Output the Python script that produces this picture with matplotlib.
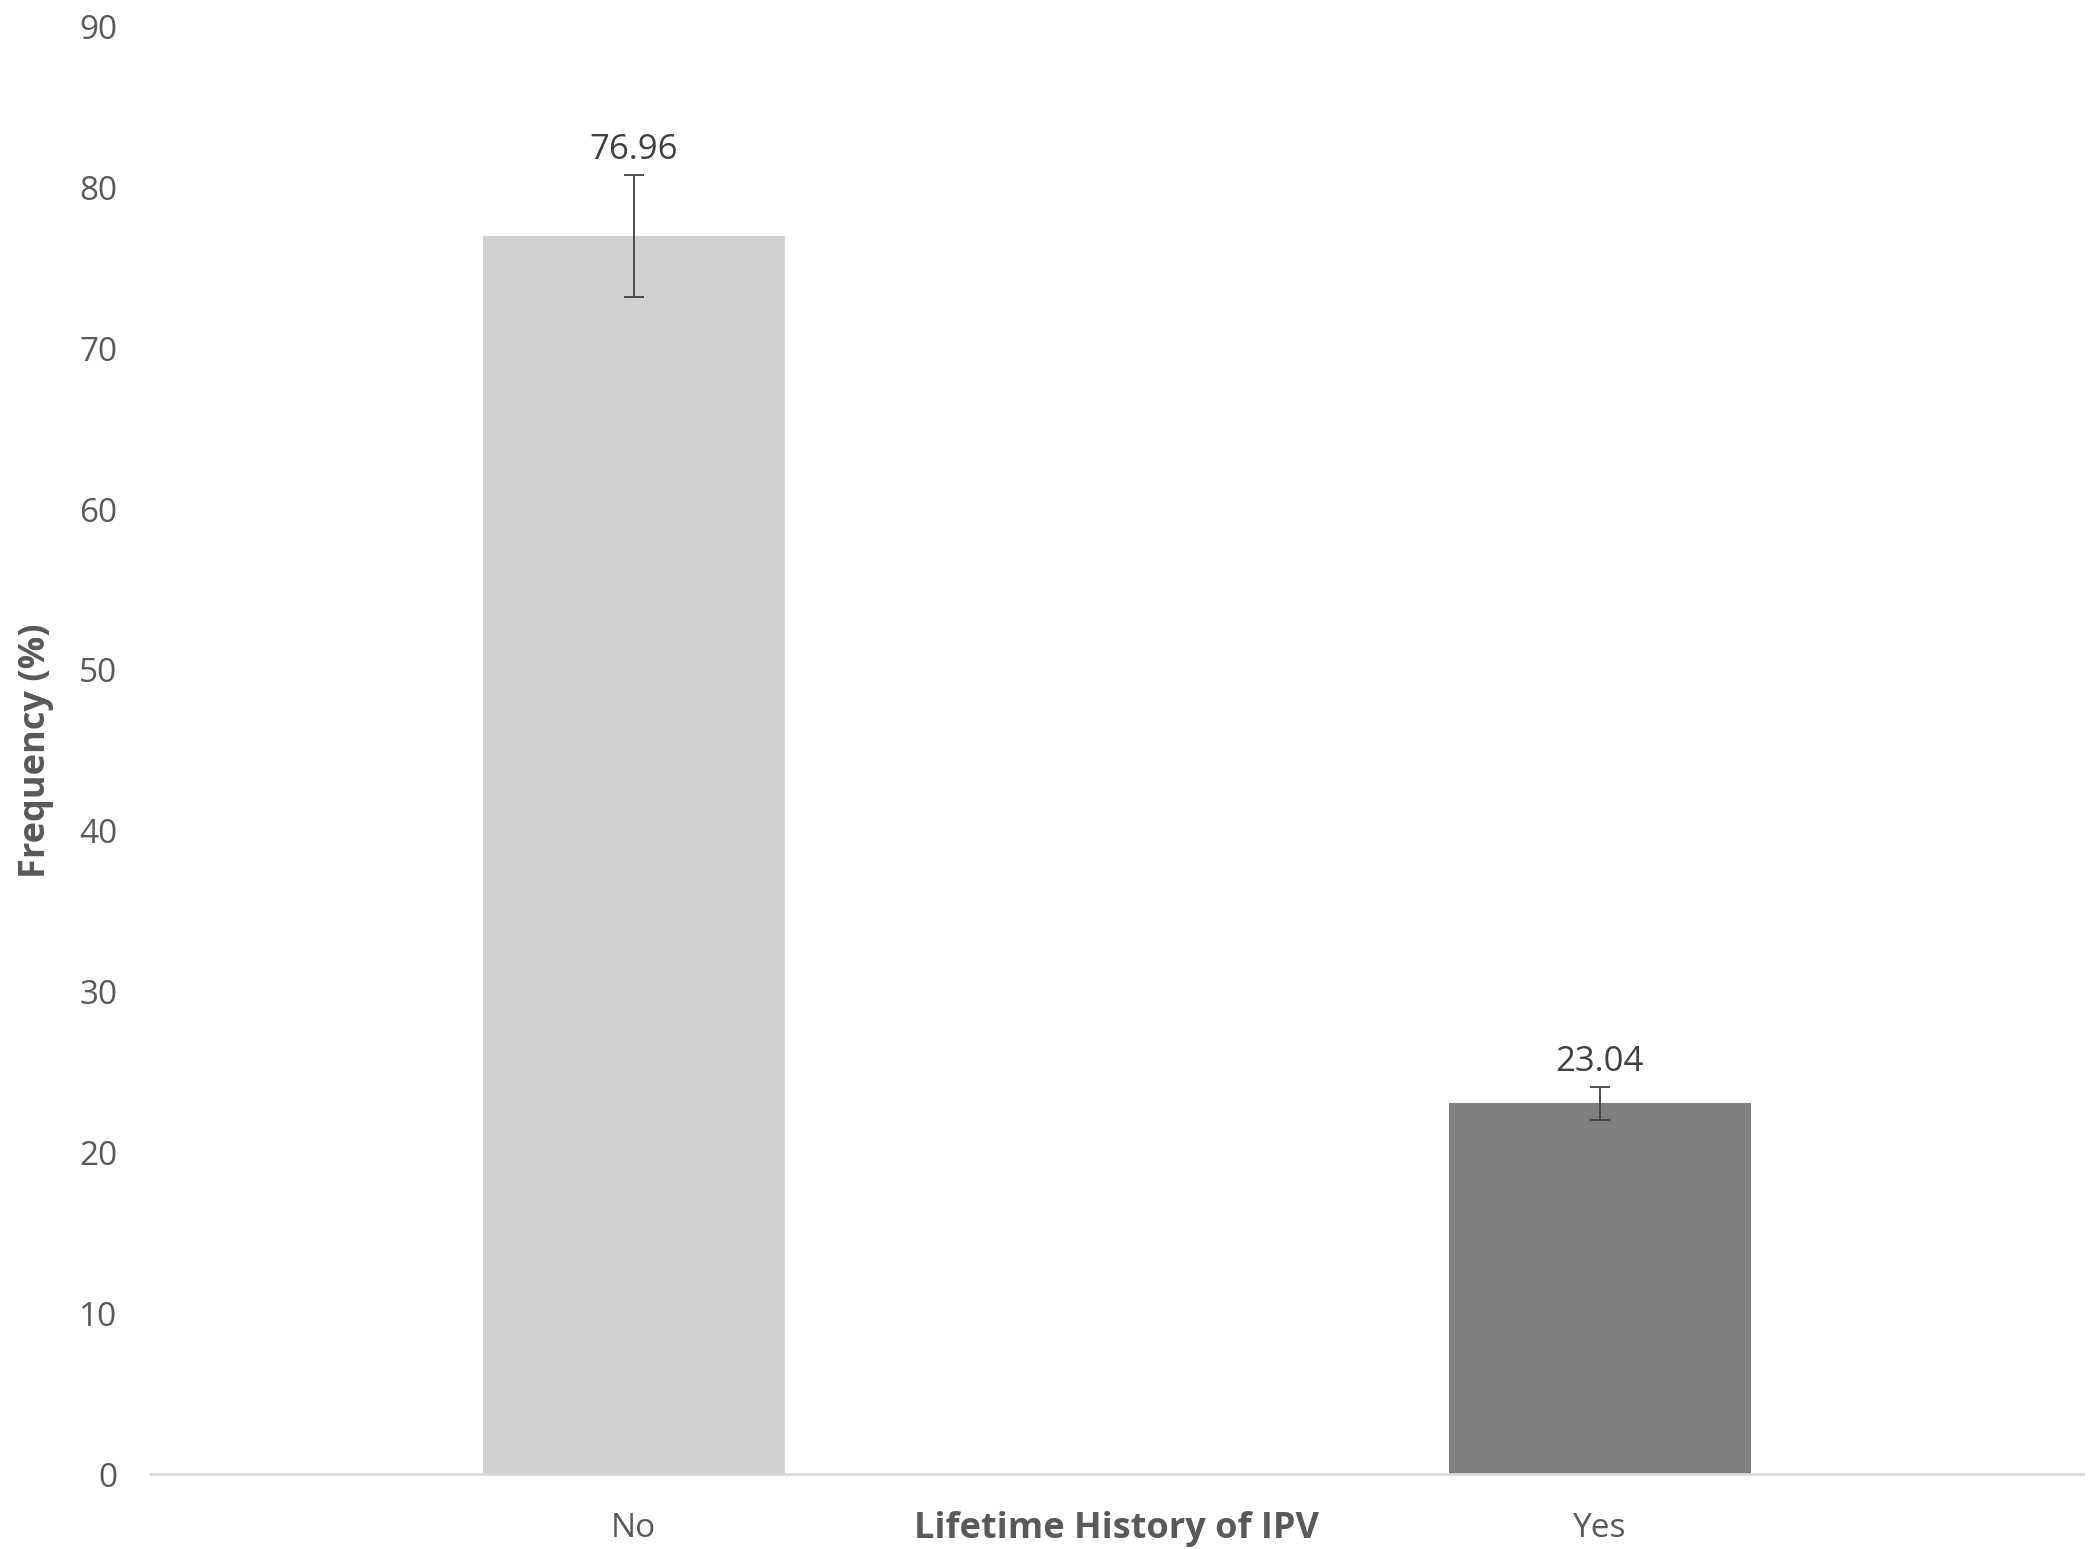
import matplotlib
matplotlib.use('Agg')
import matplotlib.pyplot as plt

categories = ['No', 'Yes']
frequency = [76.96, 23.04]
errors = [3.8, 1.05]
bar_colors = ['#D0D0D0', '#7F7F7F']
y_ticks = [0, 10, 20, 30, 40, 50, 60, 70, 80, 90]

plt.rcParams['font.family'] = ['Open Sans', 'DejaVu Sans']

fig = plt.figure(figsize=(20.93, 15.49), dpi=100)
ax = fig.add_axes([0.0721, 0.0484, 0.9229, 0.9344])

x = list(range(len(categories)))
ax.bar(x, frequency, width=0.3125, color=bar_colors, zorder=2)
ax.errorbar(x, frequency, yerr=errors, fmt='none', ecolor='#404040',
            elinewidth=1.3, capsize=7, capthick=1.3, zorder=3)

for xi, val, err in zip(x, frequency, errors):
    ax.annotate(f'{val:.2f}', (xi, val + err), xytext=(0, 18),
                textcoords='offset points', ha='center', va='center',
                fontsize=25, color='#404040')

ax.set_xlim(-0.5, 1.5)
ax.set_ylim(0, 90)
ax.set_yticks(y_ticks)
ax.set_xticks(x)
ax.set_xticklabels(categories)

for side in ['top', 'right', 'left']:
    ax.spines[side].set_visible(False)
ax.spines['bottom'].set_color('#D9D9D9')
ax.spines['bottom'].set_linewidth(2)

ax.tick_params(axis='both', length=0, labelsize=24, labelcolor='#595959')
ax.tick_params(axis='y', pad=24)
ax.tick_params(axis='x', pad=27)

ax.set_xlabel('Lifetime History of IPV', fontsize=26, fontweight='bold', color='#595959')
ax.xaxis.label.set_va('center')
ax.xaxis.set_label_coords(0.5, -0.038)
ax.set_ylabel('Frequency (%)', fontsize=26, fontweight='bold', color='#595959')
ax.yaxis.label.set_va('center')
ax.yaxis.set_label_coords(-0.0594, 0.5)

fig.savefig('out.png', dpi=100)
